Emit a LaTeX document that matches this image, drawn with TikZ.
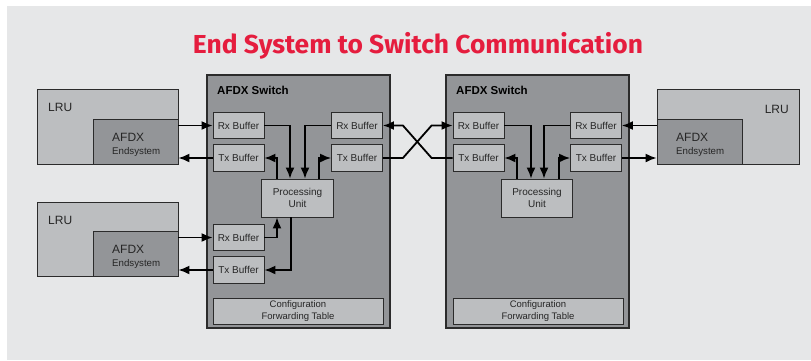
\documentclass[tikz,border=0pt]{standalone}
\usepackage{fontspec}
\setmainfont{Liberation Sans}
\newfontfamily\titlefont{Fira Sans}
\usetikzlibrary{arrows.meta}
\definecolor{bgc}{HTML}{E6E7E8}
\definecolor{swc}{HTML}{939598}
\definecolor{lgc}{HTML}{BCBEC0}
\definecolor{bdc}{HTML}{2B2B2B}
\definecolor{titlered}{HTML}{E51D3E}
\tikzset{
  swbox/.style={draw=bdc, line width=1.1pt, fill=swc, inner sep=0pt, minimum width=183pt, minimum height=253pt},
  buf/.style={draw=bdc, line width=0.8pt, fill=lgc, inner sep=0pt, minimum width=51pt, minimum height=26.5pt,
    text=black!85, font=\fontsize{10}{12}\selectfont},
  pubox/.style={buf, minimum width=71.5pt, minimum height=38pt, align=center, font=\fontsize{10}{12.5}\selectfont},
  cfgbox/.style={buf, minimum width=170pt, minimum height=26pt, align=center, font=\fontsize{9.5}{11.5}\selectfont},
  lrubox/.style={draw=bdc, line width=0.8pt, fill=lgc, inner sep=0pt, minimum width=141pt, minimum height=75pt},
  esbox/.style={draw=bdc, line width=0.8pt, fill=swc, inner sep=0pt, minimum width=85pt, minimum height=45pt},
  lbl/.style={inner sep=0pt, text=black!85},
  arr/.style={line width=1.8pt, -{Latex[length=11pt,width=9pt]}},
}
\begin{document}
\begin{tikzpicture}[x=1pt,y=-1pt]
\useasboundingbox (0,0) rectangle (811,360);
\fill[white] (0,0) rectangle (811,360);
\fill[bgc] (7,6) rectangle (811,360);

% title
\node[inner sep=0pt, anchor=base, text=titlered] (title) at (418,53)
  {\resizebox{450pt}{\height}{\titlefont\bfseries\fontsize{26}{26}\selectfont End System to Switch Communication}};

% switches
\node[swbox] (sw1) at (298.5,201.5) {};
\node[swbox] (sw2) at (537.5,201.5) {};
\node[lbl, anchor=base west, font=\fontsize{11.5}{12}\selectfont\bfseries, text=black] (sw1lbl) at (217,94.5) {AFDX Switch};
\node[lbl, anchor=base west, font=\fontsize{11.5}{12}\selectfont\bfseries, text=black] (sw2lbl) at (456,94.5) {AFDX Switch};

% switch 1 contents
\node[buf] (rx1L) at (238.5,125.5) {Rx Buffer};
\node[buf] (tx1L) at (238.5,158) {Tx Buffer};
\node[buf] (rx1R) at (357,125.5) {Rx Buffer};
\node[buf] (tx1R) at (357,158) {Tx Buffer};
\node[pubox] (pu1) at (297.5,198) {Processing\\Unit};
\node[buf] (rx1B) at (238.5,237.5) {Rx Buffer};
\node[buf] (tx1B) at (238.5,270) {Tx Buffer};
\node[cfgbox] (cfg1) at (298,311) {Configuration\\Forwarding Table};

% switch 2 contents
\node[buf] (rx2L) at (478.5,125.5) {Rx Buffer};
\node[buf] (tx2L) at (478.5,158) {Tx Buffer};
\node[buf] (rx2R) at (596,125.5) {Rx Buffer};
\node[buf] (tx2R) at (596,158) {Tx Buffer};
\node[pubox] (pu2) at (537,198) {Processing\\Unit};
\node[cfgbox] (cfg2) at (538,311) {Configuration\\Forwarding Table};

% LRUs
\node[lrubox] (lru1) at (107.5,126.5) {};
\node[esbox] (es1) at (135.5,141.5) {};
\node[lbl, anchor=base west, font=\fontsize{12}{14}\selectfont] (lru1t) at (48,111.5) {LRU};
\node[lbl, anchor=base west, font=\fontsize{12}{14}\selectfont] (es1a) at (112,141.5) {AFDX};
\node[lbl, anchor=base west, font=\fontsize{9.7}{12}\selectfont] (es1b) at (112,154.5) {Endsystem};

\node[lrubox, minimum height=74pt] (lru2) at (107.5,239) {};
\node[esbox] (es2) at (135.5,253.5) {};
\node[lbl, anchor=base west, font=\fontsize{12}{14}\selectfont] (lru2t) at (48,224.5) {LRU};
\node[lbl, anchor=base west, font=\fontsize{12}{14}\selectfont] (es2a) at (112,253) {AFDX};
\node[lbl, anchor=base west, font=\fontsize{9.7}{12}\selectfont] (es2b) at (112,266) {Endsystem};

\node[lrubox, minimum width=142pt] (lru3) at (728,126.5) {};
\node[esbox] (es3) at (699.5,141.5) {};
\node[lbl, anchor=base east, font=\fontsize{12}{14}\selectfont] (lru3t) at (789,113) {LRU};
\node[lbl, anchor=base west, font=\fontsize{12}{14}\selectfont] (es3a) at (676,141.5) {AFDX};
\node[lbl, anchor=base west, font=\fontsize{9.7}{12}\selectfont] (es3b) at (676,154.5) {Endsystem};

% LRU <-> switch arrows
\draw[arr] (rx1L.west -| es1.east) -- (rx1L.west);
\draw[arr] (tx1L.west) -- (tx1L.west -| es1.east);
\draw[arr] (rx1B.west -| es2.east) -- (rx1B.west);
\draw[arr] (tx1B.west) -- (tx1B.west -| es2.east);
\draw[arr] (rx2R.east -| es3.west) -- (rx2R.east);
\draw[arr] (tx2R.east) -- (tx2R.east -| es3.west);

% switch-to-switch crossing
\draw[arr] (tx1R.east) -- ++(20,0) -- ([xshift=-21pt]rx2L.west) -- (rx2L.west);
\draw[arr] (tx2L.west) -- ++(-21,0) -- ([xshift=20pt]rx1R.east) -- (rx1R.east);

% switch 1 internals
\draw[arr] (rx1L.east) -| ([xshift=-7.5pt]pu1.north);
\draw[arr] (rx1R.west) -| ([xshift=7.5pt]pu1.north);
\draw[arr] ([xshift=-20.5pt]pu1.north) |- (tx1L.east);
\draw[arr] ([xshift=21.5pt]pu1.north) |- (tx1R.west);
\draw[arr] (rx1B.east) -| ([xshift=-20.5pt]pu1.south);
\draw[arr] ([xshift=-6.5pt]pu1.south) |- (tx1B.east);

% switch 2 internals
\draw[arr] (rx2L.east) -| ([xshift=-6pt]pu2.north);
\draw[arr] (rx2R.west) -| ([xshift=7pt]pu2.north);
\draw[arr] ([xshift=-20pt]pu2.north) |- (tx2L.east);
\draw[arr] ([xshift=22pt]pu2.north) |- (tx2R.west);
\end{tikzpicture}
\end{document}
